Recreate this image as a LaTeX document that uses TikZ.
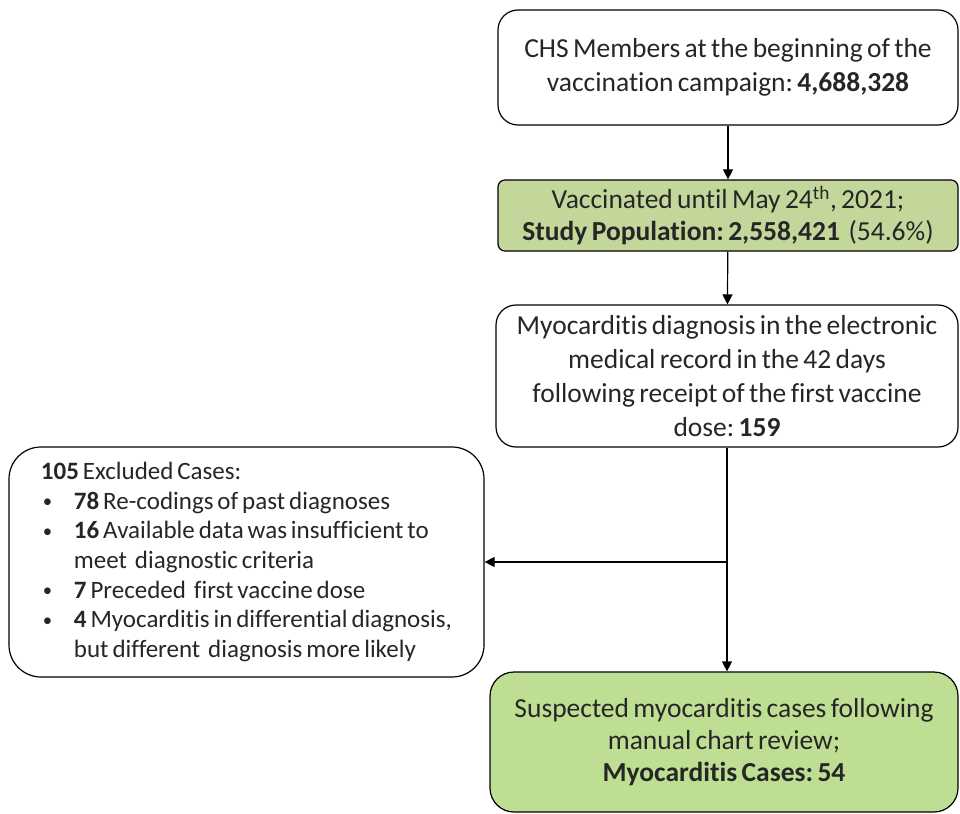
\documentclass[tikz,border=0pt]{standalone}
\usepackage{fontspec}
\setmainfont{Carlito}[WordSpace=0.7, Ligatures=NoCommon]
\usetikzlibrary{arrows.meta}
\frenchspacing
\definecolor{txt}{HTML}{262626}
\definecolor{greenA}{HTML}{C4D79B}
\definecolor{greenB}{HTML}{BEDF93}
\newcommand{\bul}{\makebox[33pt][l]{\hspace{2pt}\raisebox{1.5pt}{\scalebox{0.75}{•}}}}
\newcommand{\ind}{\hspace*{33pt}}
\begin{document}
\begin{tikzpicture}[x=1pt,y=-1pt,
  box/.style={draw=black, line width=1.2pt, rounded corners=#1, align=center,
    text=txt, inner sep=0pt, font=\fontsize{27.5}{34}\selectfont},
  arr/.style={draw=black, line width=1.2pt, -{Triangle[length=10pt,width=10pt]}}]
\useasboundingbox (0,0) rectangle (960,813);
\node[box=20pt, minimum width=460pt, minimum height=115pt] (b1) at (728,67.5)
  {CHS Members at the beginning of the\\ vaccination campaign: \textbf{4,688,328}};
\node[box=7pt, fill=greenA, minimum width=460pt, minimum height=71pt,
  font=\fontsize{27.5}{32}\selectfont] (b2) at (728,215.5)
  {Vaccinated until May 24\textsuperscript{th}, 2021;\\ \textbf{Study Population: 2,558,421}\ \ (54.6\%)};
\node[box=20pt, minimum width=462pt, minimum height=142pt] (b3) at (727,376)
  {Myocarditis diagnosis in the electronic\\ medical record in the 42 days\\ following receipt of the first vaccine\\ dose: \textbf{159}};
\node[box=32pt, align=left, minimum width=475pt, minimum height=230pt,
  font=\fontsize{25}{29.7}\selectfont] (b4) at (246.5,562)
  {\textbf{105} Excluded Cases:\\
   \bul\textbf{78} Re-codings of past diagnoses\\
   \bul\textbf{16} Available data was insufficient to\\
   \ind meet\ \ diagnostic criteria\\
   \bul\textbf{7} Preceded\ \ first vaccine dose\\
   \bul\textbf{4} Myocarditis in differential diagnosis,\\
   \ind but different\ \ diagnosis more likely};
\node[box=24pt, fill=greenB, minimum width=468pt, minimum height=140pt,
  font=\fontsize{27.5}{32}\selectfont] (b5) at (724,742)
  {Suspected myocarditis cases following\\ manual chart review;\\ \textbf{Myocarditis Cases: 54}};
\draw[arr] (b1) -- (b2);
\draw[arr] (b2) -- (b3);
\coordinate (j) at (b3.south |- b4.east);
\draw[arr] (b3.south) -- (b3.south |- b5.north);
\draw[arr] (j) -- (b4.east);
\end{tikzpicture}
\end{document}
